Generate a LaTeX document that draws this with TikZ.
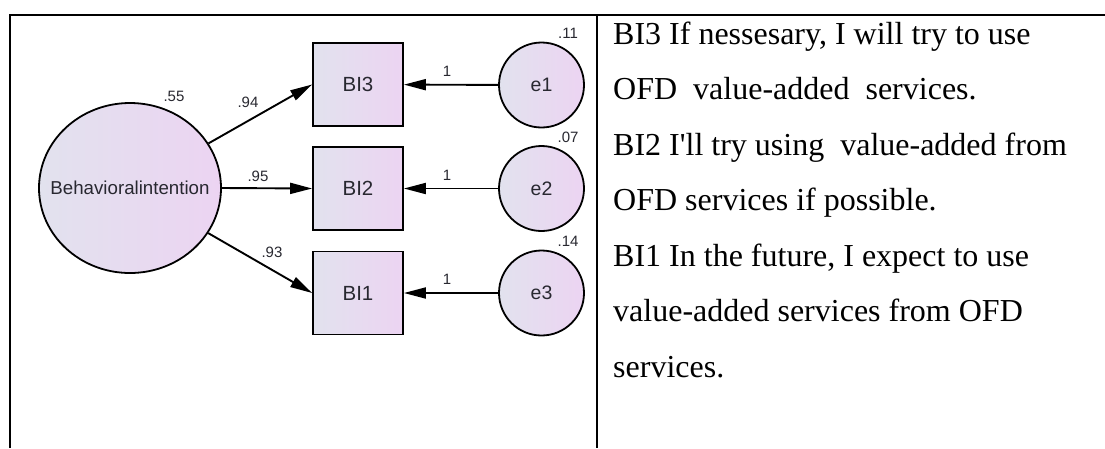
\documentclass[tikz,border=0pt]{standalone}
\usepackage{fontspec}
\setmainfont{Liberation Sans}
\newfontfamily\serifface{Liberation Serif}
\usetikzlibrary{arrows.meta,shapes.geometric}
\definecolor{fillA}{RGB}{226,226,238}
\definecolor{fillB}{RGB}{236,212,242}
\definecolor{dtext}{RGB}{40,40,48}
\begin{document}
\begin{tikzpicture}[x=1pt,y=-1pt,
  shade/.style={left color=fillA,right color=fillB},
  latent/.style={ellipse,draw,line width=1.8pt,shade,inner sep=0pt,
     minimum width=182pt,minimum height=170pt},
  latentlbl/.style={font=\fontsize{18.7}{20}\selectfont,inner sep=0pt,text=dtext},
  errc/.style={circle,draw,line width=1.8pt,shade,inner sep=0pt,text=dtext,
     minimum size=85pt,font=\fontsize{19.5}{22}\selectfont},
  obs/.style={rectangle,draw,line width=1.8pt,shade,inner sep=0pt,text=dtext,
     minimum width=90pt,minimum height=83pt,font=\fontsize{20.5}{22}\selectfont},
  arr/.style={line width=1.9pt,-{Triangle[length=22pt,width=11pt]}},
  num/.style={font=\fontsize{15}{16}\selectfont,inner sep=0pt,text=dtext},
  tline/.style={line width=2.2pt},
  rtxt/.style={anchor=base west,inner sep=0pt,font=\serifface\fontsize{32}{34}\selectfont}]
\useasboundingbox[fill=white] (0,0) rectangle (1105,448);
% table
\coordinate (tl) at (10,15);
\coordinate (tr) at (1105,15);
\coordinate (bl) at (10,448);
\coordinate (dt) at (597,15);
\coordinate (db) at (597,448);
\draw[tline] (bl) -- (tl) -- (tr);
\draw[tline] (dt) -- (db);
% nodes
\node[latent,label={[latentlbl]center:Behavioralintention}] (bi) at (130,188) {};
\node[obs] (b3) at (358,84.5) {BI3};
\node[obs] (b2) at (358,188.5) {BI2};
\node[obs] (b1) at (358,293) {BI1};
\node[errc] (e1) at (541.5,85) {e1};
\node[errc] (e2) at (541.5,188.5) {e2};
\node[errc] (e3) at (541.5,293) {e3};
% arrows
\draw[arr] (bi) -- (b3.west);
\draw[arr] (bi.east) -- (b2.west);
\draw[arr] (bi) -- (b1.west);
\draw[arr] (e1) -- (b3);
\draw[arr] (e2) -- (b2);
\draw[arr] (e3) -- (b1);
% labels
\node[num] (l55) at (174,96) {.55};
\node[num] (l94) at (248,102) {.94};
\node[num] (l95) at (258,176) {.95};
\node[num] (l93) at (272,252) {.93};
\node[num] (l11) at (568,33) {.11};
\node[num] (l07) at (568,137) {.07};
\node[num] (l14) at (568,241) {.14};
\node[num] (o1) at (447,71) {1};
\node[num] (o2) at (447,175) {1};
\node[num] (o3) at (447,279) {1};
% right text
\node[rtxt] (t1) at (613,44.3) {BI3 If nessesary, I will try to use};
\node[rtxt] (t2) at (613,99.8) {OFD\ \ value-added\ \ services.};
\node[rtxt] (t3) at (613,155.3) {BI2 I'll try using\ \ value-added from};
\node[rtxt] (t4) at (613,210.8) {OFD services if possible.};
\node[rtxt] (t5) at (613,266.3) {BI1\ In the future, I expect to use};
\node[rtxt] (t6) at (613,321.8) {value-added services from OFD};
\node[rtxt] (t7) at (613,377.3) {services.};
\end{tikzpicture}
\end{document}
